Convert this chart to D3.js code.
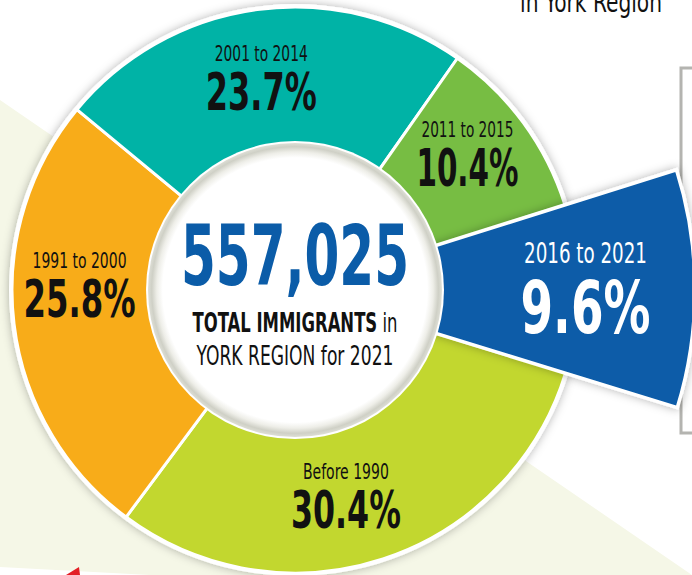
<!DOCTYPE html>
<html>
<head>
<meta charset="utf-8">
<script src="https://cdn.jsdelivr.net/npm/d3@7"></script>
<style>
    html, body { margin: 0; padding: 0; background: #ffffff; }
    svg { display: block; }
    text { font-family: "Liberation Sans Narrow", "Arial Narrow", "DejaVu Sans Condensed", sans-serif; }
</style>
</head>
<body>
<svg id="chart" width="692" height="575"></svg>
<script>
// Данные: период прибытия и доля иммигрантов
const periods = ['2016 to 2021', 'Before 1990', '1991 to 2000', '2001 to 2014', '2011 to 2015'];
const shares = [9.6, 30.4, 25.8, 23.7, 10.4];
const sliceColors = ['#0b5ca8', '#c2d72f', '#f8ac19', '#00b3a6', '#77bd43'];
const totalImmigrants = 557025;
const centreLines = ['TOTAL IMMIGRANTS', ' in', 'YORK REGION for 2021'];
const cornerTitle = 'in York Region';

// Геометрия
const cx = 295, cy = 290;
const rHole = 147, rRing = 283, rBlue = 400;
const startAngle = 72.5 * Math.PI / 180;

// Сдвиг подписей от центроида сектора и ширина текста (узкий шрифт)
const labelNudge = [[17, 17], [-16, 15], [-2, -18], [-5, 14], [-1, 4]];
const periodWidth = [123, 86, 94, 93, 92];
const pctWidth = [130, 110, 112, 111, 102];

const svg = d3.select('#chart');
const defs = svg.append('defs');

const soft = defs.append('filter')
    .attr('id', 'soft')
    .attr('x', '-20%').attr('y', '-20%')
    .attr('width', '140%').attr('height', '140%');
soft.append('feDropShadow')
    .attr('dx', 0).attr('dy', 0)
    .attr('stdDeviation', 5)
    .attr('flood-color', '#000')
    .attr('flood-opacity', 0.3);

const rim = defs.append('radialGradient').attr('id', 'rim');
[[0, '#ffffff'], [0.9, '#ffffff'], [0.94, '#eeeee8'], [0.975, '#cfd0c6'], [1, '#dddeD5']]
    .forEach(([o, c]) => rim.append('stop').attr('offset', o).attr('stop-color', c));

// Фон: светлая диагональная полоса
svg.append('polygon')
    .attr('points', '0,100 692,575 150,575 0,567')
    .attr('fill', '#f5f7e7');
svg.append('polygon')
    .attr('points', '66,575 79,567 80,575')
    .attr('fill', '#e31f26');

// Серая рамка справа
svg.append('path')
    .attr('d', 'M692,68 H681 V433 H692')
    .attr('fill', 'none')
    .attr('stroke', '#b4b4b0')
    .attr('stroke-width', 3);

const slices = periods.map((p, i) => ({ period: p, share: shares[i], color: sliceColors[i], idx: i }));

const pie = d3.pie()
    .sort(null)
    .value(d => d.share)
    .startAngle(startAngle)
    .endAngle(startAngle + 2 * Math.PI);
const arcs = pie(slices);

const ringArc = d3.arc().innerRadius(rHole - 8).outerRadius(rRing);
const blueArc = d3.arc().innerRadius(rHole - 8).outerRadius(rBlue);
const labelArc = d3.arc().innerRadius(rHole).outerRadius(rRing);
const blueLabelArc = d3.arc().innerRadius(rHole).outerRadius(rBlue);

const g = svg.append('g').attr('transform', `translate(${cx},${cy})`);

// Белая подложка кольца с тенью
g.append('circle')
    .attr('r', rRing + 3)
    .attr('fill', '#ffffff')
    .attr('filter', 'url(#soft)');

g.selectAll('path.slice')
    .data(arcs.filter(a => a.data.idx !== 0))
    .join('path')
    .attr('class', 'slice')
    .attr('d', ringArc)
    .attr('fill', d => d.data.color)
    .attr('stroke', '#ffffff')
    .attr('stroke-width', 3)
    .attr('stroke-linejoin', 'round');

// Выдвинутый сектор 2016–2021
g.selectAll('path.blue')
    .data(arcs.filter(a => a.data.idx === 0))
    .join('path')
    .attr('class', 'blue')
    .attr('d', blueArc)
    .attr('fill', d => d.data.color)
    .attr('stroke', '#ffffff')
    .attr('stroke-width', 3.5)
    .attr('filter', 'url(#soft)');

// Центральный круг
g.append('circle').attr('r', rHole + 2).attr('fill', '#ffffff');
g.append('circle').attr('r', rHole).attr('fill', 'url(#rim)');

// Помощник: текст в точке (x, y), сжатый по горизонтали до нужной ширины
function fit(sel, x, y, width) {
    const natural = sel.node().getComputedTextLength();
    return sel
        .attr('x', 0).attr('y', 0)
        .attr('transform', `translate(${x},${y}) scale(${width / natural},1)`);
}

const fmtPct = d => d3.format('.1f')(d) + '%';

arcs.forEach(a => {
    const i = a.data.idx;
    const isBlue = i === 0;
    const c = (isBlue ? blueLabelArc : labelArc).centroid(a);
    const x = c[0] + labelNudge[i][0];
    const y = c[1] + labelNudge[i][1];
    const fill = isBlue ? '#ffffff' : '#111111';

    const small = g.append('text')
        .attr('text-anchor', 'middle')
        .attr('font-size', isBlue ? 29 : 22)
        .attr('fill', fill)
        .text(a.data.period);
    fit(small, x, isBlue ? y - 43 : y - 30, periodWidth[i]);

    const big = g.append('text')
        .attr('text-anchor', 'middle')
        .attr('font-size', isBlue ? 73 : 52)
        .attr('font-weight', 'bold')
        .attr('fill', fill)
        .text(fmtPct(a.data.share));
    fit(big, x, isBlue ? y + 27 : y + 19, pctWidth[i]);
});

// Текст в центре
const num = g.append('text')
    .attr('text-anchor', 'middle')
    .attr('font-size', 84)
    .attr('font-weight', 'bold')
    .attr('fill', '#0b5ca8')
    .text(d3.format(',')(totalImmigrants));
fit(num, 0, -5, 228);

const line1 = g.append('text')
    .attr('text-anchor', 'middle')
    .attr('font-size', 27)
    .attr('fill', '#111111');
line1.append('tspan').attr('font-weight', 'bold').text(centreLines[0]);
line1.append('tspan').text(centreLines[1]);
fit(line1, 0, 42, 205);

const line2 = g.append('text')
    .attr('text-anchor', 'middle')
    .attr('font-size', 27)
    .attr('fill', '#111111')
    .text(centreLines[2]);
fit(line2, 0, 75, 197);

// Заголовок в углу (обрезан сверху)
const corner = svg.append('text')
    .attr('text-anchor', 'middle')
    .attr('font-size', 28)
    .attr('fill', '#111111')
    .text(cornerTitle);
fit(corner, 591, 12, 142);
</script>
</body>
</html>
